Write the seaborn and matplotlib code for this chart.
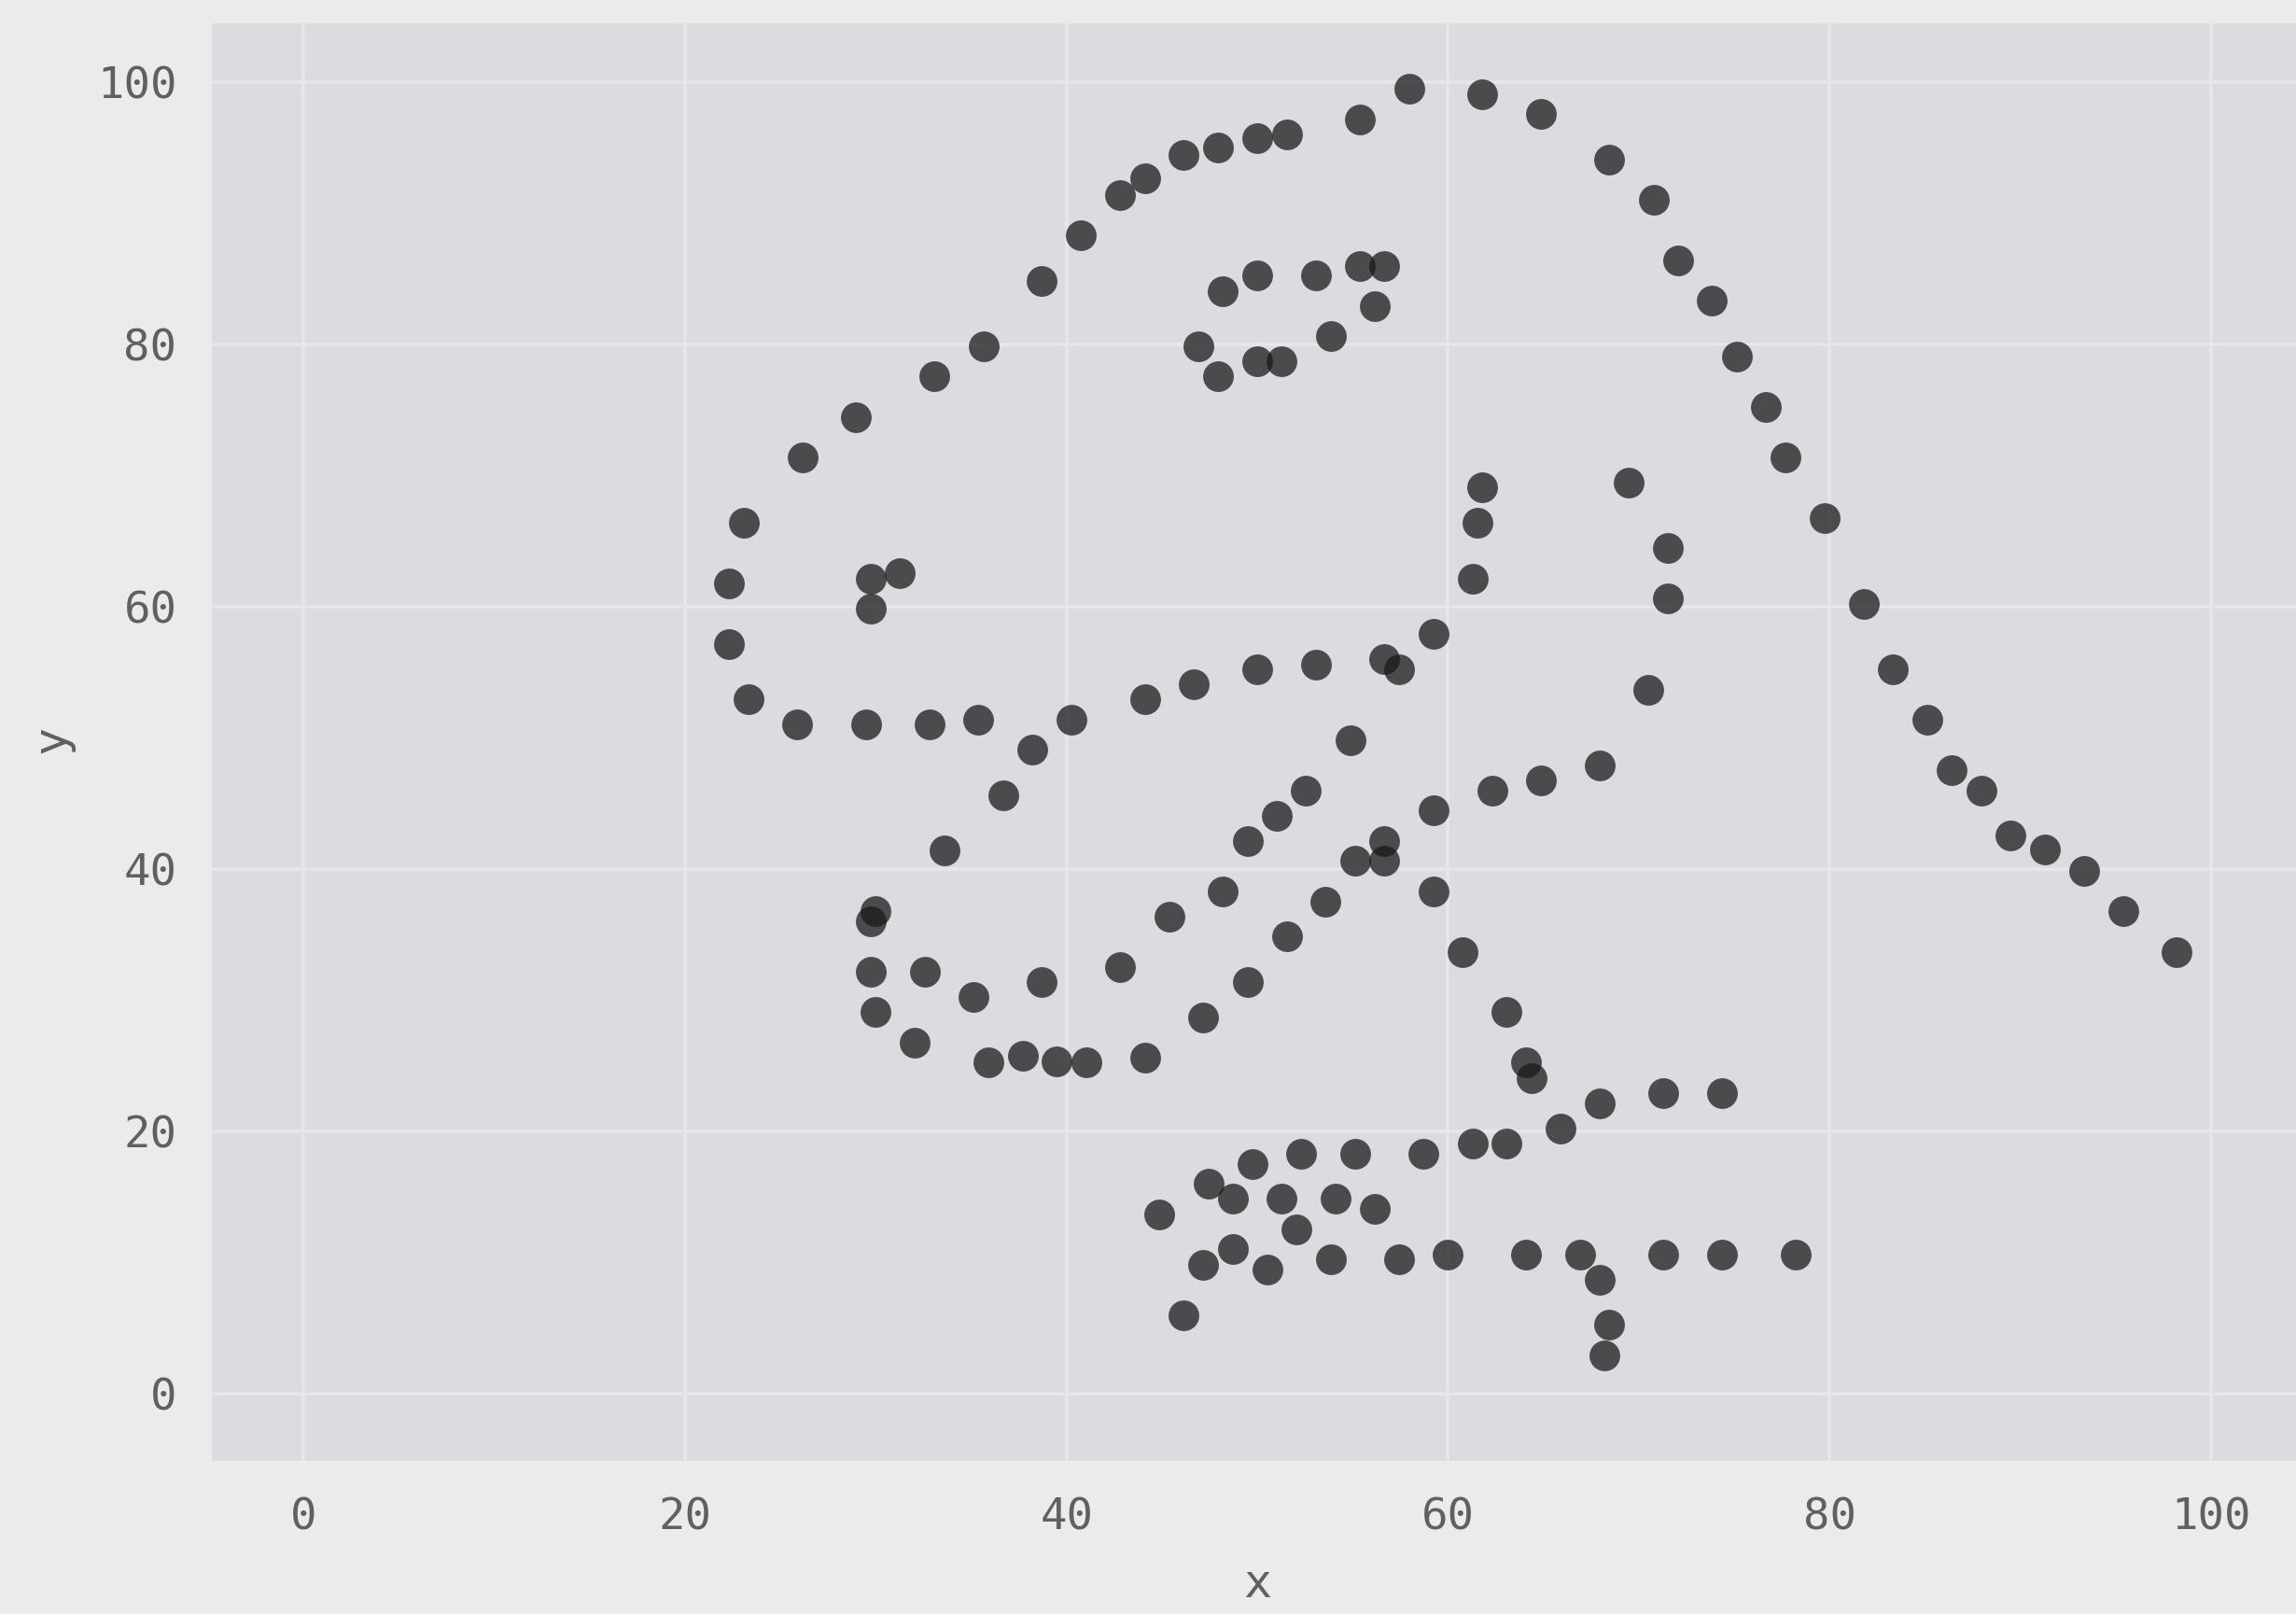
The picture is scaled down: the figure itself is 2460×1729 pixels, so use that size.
import matplotlib
matplotlib.use("Agg")
import matplotlib.pyplot as plt
import seaborn as sns
import pandas as pd

x_values = [
    55.3846, 51.5385, 46.1538, 42.8205, 40.7692, 38.7179, 35.6410, 33.0769, 28.9744, 26.1538,
    23.0769, 22.3077, 22.3077, 23.3333, 25.8974, 29.4872, 32.8205, 35.3846, 40.2564, 44.1026,
    46.6667, 50.0000, 53.0769, 56.6667, 59.2308, 61.2821, 61.5385, 61.7949, 57.4359, 54.8718,
    52.5641, 48.2051, 49.4872, 51.0256, 45.3846, 42.8205, 38.7179, 35.1282, 32.5641, 30.0000,
    33.5897, 36.6667, 38.2051, 29.7436, 29.7436, 30.0000, 32.0513, 35.8974, 41.0256, 44.1026,
    47.1795, 49.4872, 51.5385, 53.5897, 55.1282, 56.6667, 59.2308, 62.3077, 64.8718, 67.9487,
    70.5128, 71.5385, 71.5385, 69.4872, 46.9231, 48.2051, 50.0000, 53.0769, 55.3846, 56.6667,
    56.1538, 53.8462, 51.2821, 50.0000, 47.9487, 29.7436, 29.7436, 31.2821, 57.9487, 61.7949,
    64.8718, 68.4615, 70.7692, 72.0513, 73.8462, 75.1282, 76.6667, 77.6923, 79.7436, 81.7949,
    83.3333, 85.1282, 86.4103, 87.9487, 89.4872, 93.3333, 95.3846, 98.2051, 56.6667, 59.2308,
    60.7692, 63.0769, 64.1026, 64.3590, 74.3590, 71.2821, 67.9487, 65.8974, 63.0769, 61.2821,
    58.7179, 55.1282, 52.3077, 49.7436, 47.4359, 44.8718, 48.7179, 51.2821, 54.1026, 56.1538,
    52.0513, 48.7179, 47.1795, 46.1538, 50.5128, 53.8462, 57.4359, 60.0000, 64.1026, 66.9231,
    71.2821, 74.3590, 78.2051, 67.9487, 68.4615, 68.2051, 37.6923, 39.4872, 91.2821, 50.0000,
    47.9487, 44.1026,
]
y_values = [
    97.1795, 96.0256, 94.4872, 91.4103, 88.3333, 84.8718, 79.8718, 77.5641, 74.4872, 71.4103,
    66.4103, 61.7949, 57.1795, 52.9487, 51.0256, 51.0256, 51.0256, 51.4103, 51.4103, 52.9487,
    54.1026, 55.2564, 55.6410, 56.0256, 57.9487, 62.1795, 66.4103, 69.1026, 55.2564, 49.8718,
    46.0256, 38.3333, 42.1795, 44.1026, 36.4103, 32.5641, 31.4103, 30.2564, 32.1795, 36.7949,
    41.4103, 45.6410, 49.1026, 36.0256, 32.1795, 29.1026, 26.7949, 25.2564, 25.2564, 25.6410,
    28.7180, 31.4103, 34.8718, 37.5641, 40.6410, 42.1795, 44.4872, 46.0256, 46.7949, 47.9487,
    53.7180, 60.6410, 64.4872, 69.4872, 79.8718, 84.1026, 85.2564, 85.2564, 86.0256, 86.0256,
    82.9487, 80.6410, 78.7180, 78.7180, 77.5641, 59.8718, 62.1795, 62.5641, 99.4872, 99.1026,
    97.5641, 94.1026, 91.0256, 86.4103, 83.3333, 79.1026, 75.2564, 71.4103, 66.7949, 60.2564,
    55.2564, 51.4103, 47.5641, 46.0256, 42.5641, 39.8718, 36.7949, 33.7180, 40.6410, 38.3333,
    33.7180, 29.1026, 25.2564, 24.1026, 22.9487, 22.9487, 22.1795, 20.2564, 19.1026, 19.1026,
    18.3333, 18.3333, 18.3333, 17.5641, 16.0256, 13.7180, 14.8718, 14.8718, 14.8718, 14.1026,
    12.5641, 11.0256, 9.8718, 6.0256, 9.4872, 10.2564, 10.2564, 10.6410, 10.6410, 10.6410,
    10.6410, 10.6410, 10.6410, 8.7180, 5.2564, 2.9487, 25.7692, 25.3846, 41.5385, 95.7692,
    95.0000, 92.6923,
]
x_ticks = [0, 20, 40, 60, 80, 100]
y_ticks = [0, 20, 40, 60, 80, 100]

df = pd.DataFrame({"x": x_values, "y": y_values})

sns.set_theme(style="darkgrid")
plt.rcParams["font.family"] = ["DejaVu Sans Mono", "DejaVu Sans"]
plt.rcParams["figure.facecolor"] = "#ebebeb"
plt.rcParams["savefig.facecolor"] = "#ebebeb"

W, H = 2460, 1729
fig = plt.figure(figsize=(W / 100, H / 100), dpi=100)
left, right, top, bottom = 227, 2460, 25, 1565
ax = fig.add_axes([left / W, 1 - bottom / H, (right - left) / W, (bottom - top) / H])
ax.set_facecolor("#dcdbe0")

sns.scatterplot(data=df, x="x", y="y", ax=ax, color="#1a1a1a", alpha=0.75,
                s=560, linewidth=0, zorder=3)

ax.set_xlim(-4.8, 104.45)
ax.set_ylim(-5.1, 104.5)
ax.set_xticks(x_ticks)
ax.set_yticks(y_ticks)
ax.set_xticklabels([str(t) for t in x_ticks])
ax.set_yticklabels([str(t) for t in y_ticks])
ax.grid(True, color="#e7e7eb", linewidth=2.6)
ax.set_axisbelow(True)
for s in ax.spines.values():
    s.set_visible(False)
ax.tick_params(axis="both", length=0, labelsize=34, labelcolor="#606060")
ax.tick_params(axis="x", pad=28)
ax.tick_params(axis="y", pad=27)

ax.set_xlabel("x", fontsize=36, color="#606060")
ax.set_ylabel("y", fontsize=36, color="#606060")
ax.xaxis.set_label_coords(0.5016, -0.070)
ax.yaxis.set_label_coords(-0.066, 0.502)

fig.savefig("out.png", dpi=100)
